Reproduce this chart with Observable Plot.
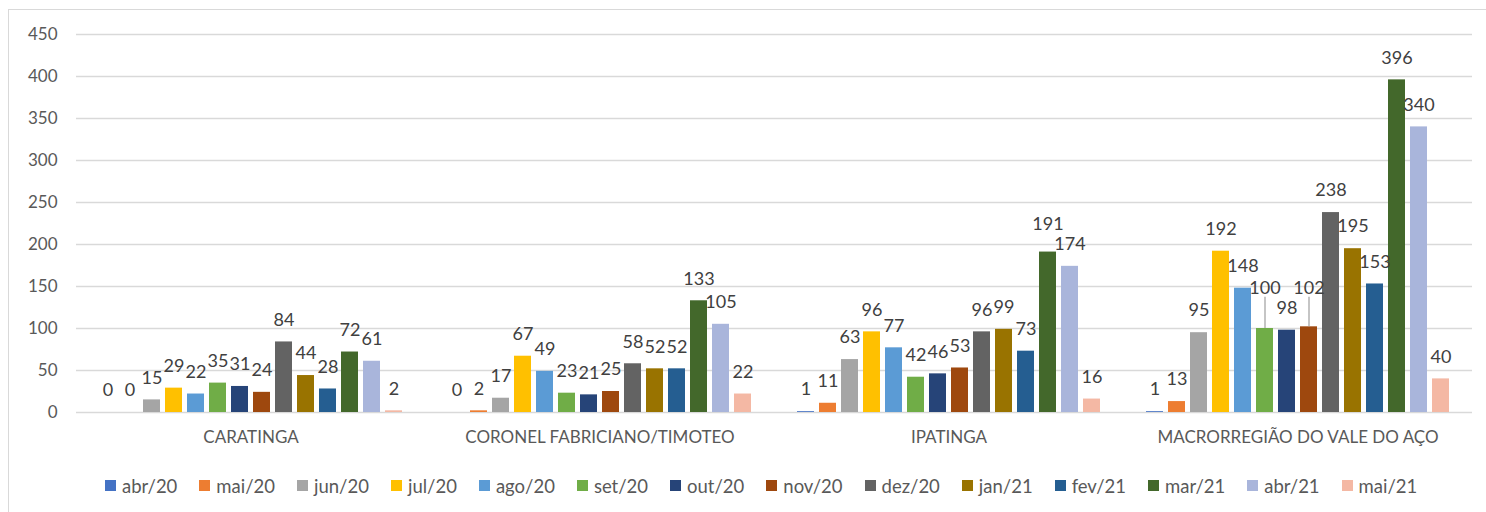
<!DOCTYPE html>
<html>
<head>
<meta charset="utf-8">
<script src="https://cdn.jsdelivr.net/npm/d3@7"></script>
<script src="https://cdn.jsdelivr.net/npm/@observablehq/plot@0.6"></script>
<style>
  html, body { margin: 0; padding: 0; background: #ffffff; }
  #wrap { position: relative; width: 1486px; height: 512px; overflow: hidden; background: #fff; }
  #frame { position: absolute; left: 8px; top: 9px; width: 1600px; height: 700px; border: 1.5px solid #d9d9d9; box-sizing: border-box; }
  #chart { position: absolute; left: 0; top: 0; }
  #legend { position: absolute; left: 105px; top: 469px; }
  .lg-swatches { font-family: Lato, sans-serif !important; font-size: 18.5px !important; color: #595959 !important; margin: 0 !important; }
  .lg-swatches-wrap .lg-swatch { margin-right: 22px !important; }
  .lg-swatch > svg { margin-right: 6px !important; }
</style>
</head>
<body>
<div id="wrap">
  <div id="frame"></div>
  <div id="chart"></div>
  <div id="legend"></div>
</div>
<script>
const regions = ["CARATINGA", "CORONEL FABRICIANO/TIMOTEO", "IPATINGA", "MACRORREGIÃO DO VALE DO AÇO"];
const months = ["abr/20", "mai/20", "jun/20", "jul/20", "ago/20", "set/20", "out/20", "nov/20", "dez/20", "jan/21", "fev/21", "mar/21", "abr/21", "mai/21"];
const caratinga = [0, 0, 15, 29, 22, 35, 31, 24, 84, 44, 28, 72, 61, 2];
const coronel = [0, 2, 17, 67, 49, 23, 21, 25, 58, 52, 52, 133, 105, 22];
const ipatinga = [1, 11, 63, 96, 77, 42, 46, 53, 96, 99, 73, 191, 174, 16];
const macro = [1, 13, 95, 192, 148, 100, 98, 102, 238, 195, 153, 396, 340, 40];
const colors = ["#4472C4", "#ED7D31", "#A5A5A5", "#FFC000", "#5B9BD5", "#70AD47", "#264478", "#9E480E", "#636363", "#997300", "#255E91", "#43682B", "#A9B5DB", "#F4B8A4"];
const yTicks = [0, 50, 100, 150, 200, 250, 300, 350, 400, 450];

// layout settings
const W = 1486, H = 460, mL = 76, mR = 14, mT = 34, mB = 48;
const padIn = 0.21, padOut = 0.86;
const labelSize = 18, labelGap = 22, lineH = 20;

const series = [caratinga, coronel, ipatinga, macro];
const data = regions.flatMap((r, i) => months.map((m, j) => ({region: r, month: m, value: series[i][j]})));

// simple label collision avoidance (like Excel's nudged labels)
const ppu = (H - mT - mB) / 450;
const facetW = (W - mL - mR) / regions.length;
const stepPx = facetW / (months.length - padIn + 2 * padOut);
const labels = [];
regions.forEach((r, i) => {
  const row = months.map((m, j) => {
    const v = series[i][j];
    const base = v * ppu + labelGap;
    return {region: r, month: m, value: v, base, h: base, w: String(v).length * 0.58 * labelSize};
  });
  for (let j = 1; j < row.length; j++) {
    const a = row[j - 1], b = row[j];
    if ((a.w + b.w) / 2 > stepPx && Math.abs(a.h - b.h) < lineH) {
      if (b.h >= a.h) b.h = a.h + lineH; else a.h = b.h + lineH;
    }
  }
  row.forEach(d => { d.ly = d.h / ppu; d.lift = d.h - d.base; d.lineTop = (d.h - labelSize / 2) / ppu; });
  labels.push(...row);
});
const leaders = labels.filter(d => d.lift > 8);

const chart = Plot.plot({
  width: W,
  height: H,
  marginLeft: mL,
  marginRight: mR,
  marginTop: mT,
  marginBottom: mB,
  style: {fontFamily: "Lato, sans-serif", color: "#595959", background: "transparent"},
  fx: {domain: regions, padding: 0, label: null},
  x: {domain: months, paddingInner: padIn, paddingOuter: padOut, axis: null},
  y: {domain: [0, 450], label: null},
  color: {domain: months, range: colors},
  marks: [
    Plot.gridY(yTicks, {stroke: "#d9d9d9", strokeOpacity: 1, strokeWidth: 1.4}),
    Plot.axisY(yTicks, {tickSize: 0, tickPadding: 19, fontSize: 17, label: null, fill: "#595959"}),
    Plot.axisFx({anchor: "bottom", tickSize: 0, tickPadding: 18, fontSize: 17, label: null, fill: "#595959"}),
    Plot.barY(data, {fx: "region", x: "month", y: "value", fill: "month"}),
    Plot.ruleX(leaders, {fx: "region", x: "month", y1: "value", y2: "lineTop", stroke: "#a6a6a6", strokeWidth: 1.3}),
    Plot.text(labels, {fx: "region", x: "month", y: "ly", text: d => String(d.value), fontSize: labelSize, fill: "#404040", lineAnchor: "middle"})
  ]
});
document.getElementById("chart").appendChild(chart);

const legend = Plot.legend({
  color: {domain: months, range: colors},
  legend: "swatches",
  swatchSize: 11,
  className: "lg"
});
document.getElementById("legend").appendChild(legend);
</script>
</body>
</html>
